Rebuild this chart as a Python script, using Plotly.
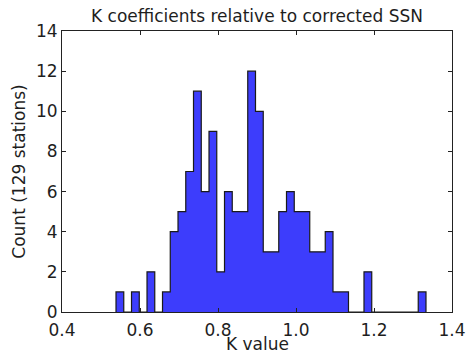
import numpy as np
import plotly.graph_objects as go

# Histogram data (40 bins)
bin_start = 0.5385
bin_end = 1.3333
n_bins = 40
counts = [1, 0, 1, 0, 2, 0, 1, 4, 5, 7,
          11, 6, 9, 2, 6, 5, 5, 12, 10, 3,
          3, 5, 6, 5, 5, 3, 3, 4, 1, 1,
          0, 0, 2, 0, 0, 0, 0, 0, 0, 1]
x_ticks = [0.4, 0.6, 0.8, 1.0, 1.2, 1.4]
y_ticks = [0, 2, 4, 6, 8, 10, 12, 14]

edges = np.linspace(bin_start, bin_end, n_bins + 1)
xs = [edges[0]] + list(edges[:-1]) + [edges[-1]]
ys = [0] + counts + [0]

fig = go.Figure()
fig.add_trace(go.Scatter(
    x=xs, y=ys, mode="lines", line_shape="hv",
    fill="tozeroy", fillcolor="#3d3dfc",
    line=dict(color="#1a1a1a", width=1.2),
    hoverinfo="skip", showlegend=False,
))

font = "DejaVu Sans, Liberation Sans, sans-serif"
txt = "#1e1e1e"
fig.update_layout(
    width=470, height=355,
    margin=dict(l=62, r=18, t=31, b=43),
    paper_bgcolor="white", plot_bgcolor="white",
    font=dict(family=font, color=txt, size=17),
    title=dict(text="K coefficients relative to corrected SSN",
               x=0.5, xref="paper", xanchor="center",
               y=1 - 16 / 355, yref="container", yanchor="middle",
               font=dict(size=17, color=txt)),
    annotations=[dict(text="K value", x=0.5, xref="paper", y=0, yref="paper",
                      xanchor="center", yanchor="middle", yshift=-32,
                      showarrow=False, font=dict(size=17, color=txt))],
)
common = dict(showgrid=False, zeroline=False, showline=True, linecolor="#222",
              linewidth=1, mirror="allticks", ticks="inside", ticklen=4,
              tickcolor="#222", tickfont=dict(size=17, color=txt),
              automargin=False)
fig.update_xaxes(range=[0.4, 1.4], tickvals=x_ticks,
                 ticktext=[f"{v:.1f}" for v in x_ticks],
                 ticklabelstandoff=3,
                 **common)
fig.update_yaxes(range=[0, 14], tickvals=y_ticks,
                 ticktext=[str(v) for v in y_ticks],
                 title=dict(text="Count (129 stations)", font=dict(size=17), standoff=6),
                 **common)

fig.write_html("out.html", config={"displayModeBar": False},
               post_script="document.body.style.margin='0';")
